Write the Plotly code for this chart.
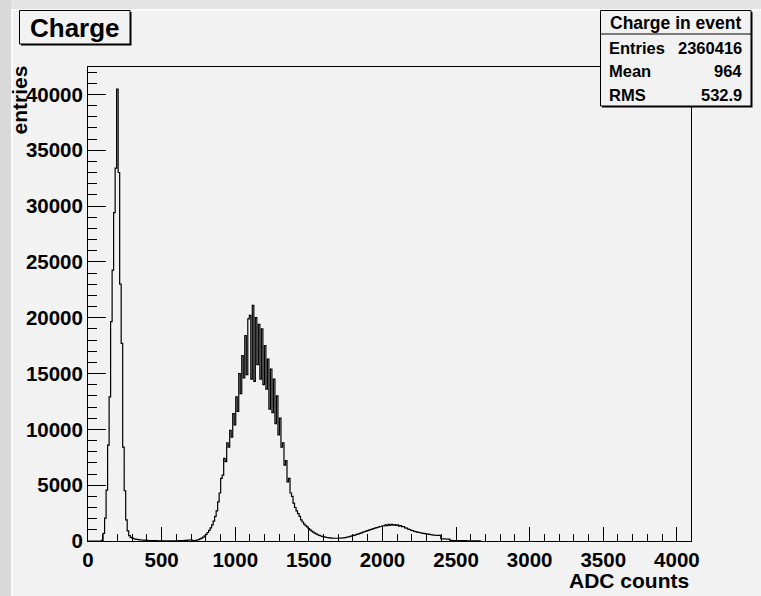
import plotly.graph_objects as go

# ---------------- data ----------------
BIN_WIDTH = 10.24          # ADC counts per bin (4096 / 400)
X_MAX = 4096
Y_MAX = 42450

counts = [
    # bins 0-9
    0, 0, 0, 0, 0, 0, 0, 0, 0, 60,
    # pedestal peak, bins 10-29
    690, 2040, 4550, 8580, 12910, 19640, 24260, 29400, 33400, 40480,
    33000, 23000, 17700, 8400, 4500, 1900, 900, 480, 320, 250,
    # tail, bins 30-59
    200, 170, 140, 120, 100, 90, 80, 70, 60, 50,
    45, 40, 35, 30, 28, 25, 20, 20, 18, 18,
    16, 15, 15, 14, 14, 15, 16, 18, 20, 22,
    # rise of main peak, bins 60-83
    25, 30, 35, 42, 50, 60, 75, 90, 110, 25,
    40, 60, 90, 130, 190, 260, 350, 460, 600, 760,
    950, 1180, 1450, 1780,
    # main peak, bins 84-139
    2200, 2700, 3500, 4300, 5600, 5900, 7400, 7100, 8800, 8400,
    9900, 9300, 11400, 10400, 12900, 11600, 15000, 13200, 16600, 14600,
    18400, 14900, 19900, 20200, 14500, 21100, 14300, 20000, 15800, 19400,
    14500, 19000, 14000, 17500, 13600, 16300, 11800, 15400, 11500, 14500,
    10500, 13000, 9500, 11000, 8400, 8800, 6800, 7200, 5300, 5600,
    4300, 4000, 3400, 3000, 2700, 2450,
    # valley, bins 140-179
    2200, 1900, 1700, 1520, 1380, 1260, 1120, 1000, 880, 790,
    700, 630, 560, 500, 450, 410, 370, 340, 315, 295,
    280, 265, 255, 248, 245, 245, 250, 258, 270, 285,
    305, 330, 360, 395, 430, 470, 510, 550, 600, 640,
    # second bump, bins 180-233
    690, 730, 790, 830, 880, 930, 980, 1020, 1070, 1110,
    1150, 1200, 1230, 1280, 1300, 1360, 1350, 1440, 1380, 1480,
    1400, 1490, 1410, 1470, 1390, 1440, 1340, 1370, 1280, 1280,
    1180, 1150, 1060, 1030, 960, 930, 870, 840, 800, 770,
    740, 710, 690, 660, 640, 610, 590, 560, 545, 530,
    515, 505, 500, 495,
    # high end, bins 234-259
    200, 190, 185, 180, 175, 170, 60, 50, 45, 40,
    40, 35, 35, 30, 30, 25, 25, 20, 20, 20,
    15, 15, 15, 10, 10, 10,
    # bin 260
    0,
]

title_text = "Charge"
x_title = "ADC counts"
y_title = "entries"
stats_title = "Charge in event"
stats_labels = ["Entries", "Mean", "RMS"]
stats_values = ["2360416", "964", "532.9"]

# ---------------- figure geometry ----------------
W, H = 761, 596
L, R, T, B = 88, 70, 67, 55
PW, PH = W - L - R, H - T - B
BG = "#f2f2f2"
FONT = "Liberation Sans, Arial, Helvetica, sans-serif"


def fx(px):
    return (px - L) / PW


def fy(py):
    return (H - B - py) / PH


edges = [k * BIN_WIDTH for k in range(len(counts) + 1)]
yvals = counts + [counts[-1]]

fig = go.Figure()
fig.add_trace(go.Scatter(
    x=edges, y=yvals, mode="lines", line_shape="hv",
    line=dict(color="black", width=1.2), hoverinfo="skip", showlegend=False,
))

axis_font = dict(family=FONT, size=20.5, color="black", weight="bold")

fig.update_xaxes(
    range=[0, X_MAX], showgrid=False, zeroline=False,
    showline=True, linecolor="black", linewidth=1, mirror=True,
    ticks="inside", ticklen=14, tickwidth=1, tickcolor="black",
    tick0=0, dtick=500, tickformat="d", tickfont=axis_font,
    minor=dict(ticks="inside", ticklen=7, tickwidth=1, tickcolor="black", dtick=100, tick0=0, showgrid=False),
)
fig.update_yaxes(
    range=[0, Y_MAX], showgrid=False, zeroline=False,
    showline=True, linecolor="black", linewidth=1, mirror=True,
    ticks="inside", ticklen=18, tickwidth=1, tickcolor="black",
    tick0=0, dtick=5000, tickformat="d", tickfont=axis_font,
    minor=dict(ticks="inside", ticklen=9, tickwidth=1, tickcolor="black", dtick=1000, tick0=0, showgrid=False),
)

shapes = []
# window border strips
shapes.append(dict(type="rect", xref="paper", yref="paper", x0=fx(0), x1=fx(W), y0=fy(0), y1=fy(9),
                   fillcolor="#e4e4e4", line=dict(width=0), layer="above"))
shapes.append(dict(type="rect", xref="paper", yref="paper", x0=fx(0), x1=fx(11), y0=fy(0), y1=fy(H),
                   fillcolor="#d9d9d9", line=dict(width=0), layer="above"))
shapes.append(dict(type="line", xref="paper", yref="paper", x0=fx(11), x1=fx(W), y0=fy(10), y1=fy(10),
                   line=dict(color="#fbfbfb", width=2), layer="above"))
shapes.append(dict(type="line", xref="paper", yref="paper", x0=fx(12), x1=fx(12), y0=fy(10), y1=fy(H),
                   line=dict(color="#fbfbfb", width=2), layer="above"))

# title box with shadow
shapes.append(dict(type="rect", xref="paper", yref="paper", x0=fx(21), x1=fx(131.5), y0=fy(12), y1=fy(45.5),
                   fillcolor="black", line=dict(width=0), layer="above"))
shapes.append(dict(type="rect", xref="paper", yref="paper", x0=fx(19.5), x1=fx(130), y0=fy(10.5), y1=fy(44),
                   fillcolor=BG, line=dict(color="black", width=1), layer="above"))
# stats box with shadow
shapes.append(dict(type="rect", xref="paper", yref="paper", x0=fx(602), x1=fx(752.5), y0=fy(12), y1=fy(107.5),
                   fillcolor="black", line=dict(width=0), layer="above"))
shapes.append(dict(type="rect", xref="paper", yref="paper", x0=fx(600.5), x1=fx(751), y0=fy(10.5), y1=fy(106),
                   fillcolor=BG, line=dict(color="black", width=1), layer="above"))
shapes.append(dict(type="line", xref="paper", yref="paper", x0=fx(600.5), x1=fx(751), y0=fy(34), y1=fy(34),
                   line=dict(color="black", width=1), layer="above"))

annotations = []
annotations.append(dict(text=title_text, xref="paper", yref="paper", x=fx(74.5), y=fy(27.5),
                        xanchor="center", yanchor="middle", showarrow=False,
                        font=dict(family=FONT, size=26, color="black", weight="bold")))
annotations.append(dict(text=stats_title, xref="paper", yref="paper", x=fx(675.5), y=fy(22.5),
                        xanchor="center", yanchor="middle", showarrow=False,
                        font=dict(family=FONT, size=17.5, color="black", weight="bold")))
row_y = [48, 71, 94.5]
for lab, val, ry in zip(stats_labels, stats_values, row_y):
    annotations.append(dict(text=lab, xref="paper", yref="paper", x=fx(607), y=fy(ry),
                            xanchor="left", yanchor="middle", showarrow=False,
                            font=dict(family=FONT, size=16.5, color="black", weight="bold")))
    annotations.append(dict(text=val, xref="paper", yref="paper", x=fx(744), y=fy(ry),
                            xanchor="right", yanchor="middle", showarrow=False,
                            font=dict(family=FONT, size=16.5, color="black", weight="bold")))
annotations.append(dict(text=x_title, xref="paper", yref="paper", x=fx(691), y=fy(580),
                        xanchor="right", yanchor="middle", showarrow=False,
                        font=dict(family=FONT, size=21, color="black", weight="bold")))
annotations.append(dict(text=y_title, xref="paper", yref="paper", x=fx(19), y=fy(64),
                        xanchor="center", yanchor="top", textangle=-90, showarrow=False,
                        font=dict(family=FONT, size=21, color="black", weight="bold")))

fig.update_layout(
    width=W, height=H,
    margin=dict(l=L, r=R, t=T, b=B, pad=0),
    paper_bgcolor=BG, plot_bgcolor=BG,
    shapes=shapes, annotations=annotations,
    showlegend=False,
)

fig.write_html(
    "out.html",
    config={"displayModeBar": False},
    post_script="document.body.style.margin='0';document.body.style.background='#f2f2f2';",
)
